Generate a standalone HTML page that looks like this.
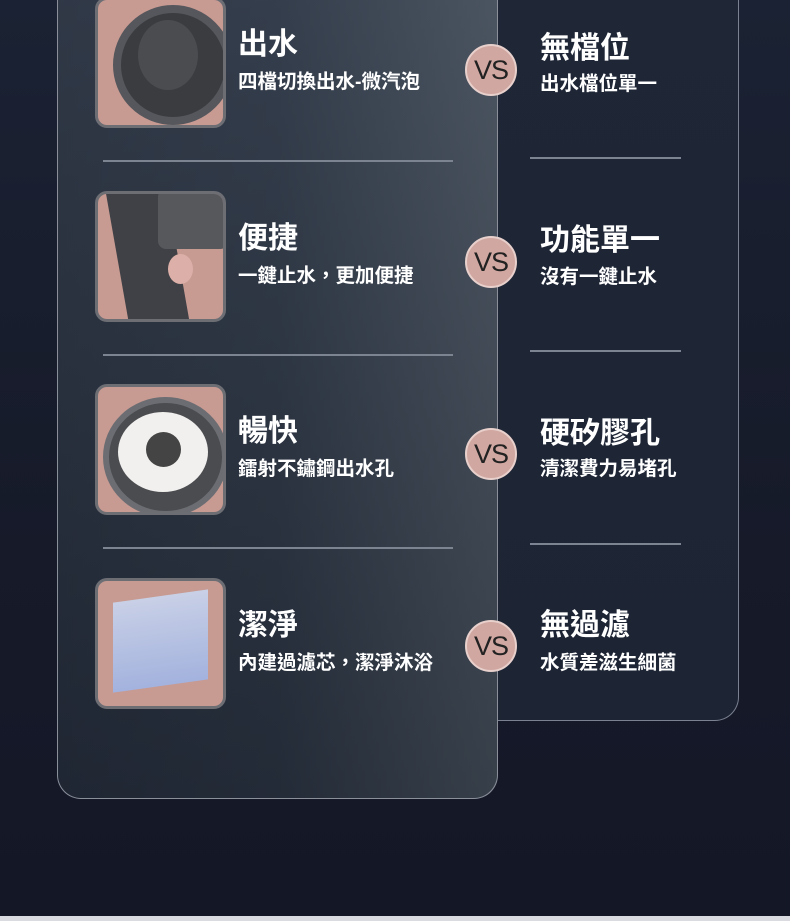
<!DOCTYPE html>
<html><head><meta charset="utf-8"><style>
*{margin:0;padding:0;box-sizing:border-box}
body{width:790px;height:921px;overflow:hidden;background:linear-gradient(180deg,#1b2233 0%,#161a29 60%,#141726 100%);position:relative;font-family:"Liberation Sans","Noto Sans CJK TC",sans-serif;color:#fff}
.rc{position:absolute;left:470px;top:-30px;width:269px;height:751px;border-radius:0 0 24px 24px;background:linear-gradient(180deg,#1f2737,#1d2434);border:1.5px solid #7b8190;border-top:none}
.lc{position:absolute;left:57px;top:-30px;width:441px;height:829px;border-radius:0 0 24px 24px;background:linear-gradient(90deg,#262e3c 0%,#2c3543 50%,#4a545f 100%);border:1.5px solid #8a8f9a;border-top:none}
.lc:after{content:"";position:absolute;inset:0;border-radius:0 0 24px 24px;background:linear-gradient(180deg,rgba(80,90,105,.25),rgba(20,24,34,.35))}
.img{position:absolute;left:95px;width:131px;height:131px;border-radius:12px;background:#c79a92;border:3px solid #6c6e74;overflow:hidden;z-index:2}
.t{position:absolute;font-size:30px;line-height:32px;z-index:2;font-weight:bold}
.s{position:absolute;font-size:19.5px;line-height:22px;z-index:2;font-weight:bold}
.vs{position:absolute;left:465px;width:52px;height:52px;border-radius:50%;background:#d1a7a1;border:2px solid #e8d0cc;color:#222;font-size:27px;line-height:48px;text-align:center;z-index:3;font-weight:normal;letter-spacing:-1px}
.ln{position:absolute;height:1.5px;background:#7d8491;z-index:2}
</style></head><body>
<div class="rc"></div>
<div class="lc"></div>

<div class="img" style="top:-3px"><div style="position:absolute;left:15px;top:5px;width:120px;height:120px;border-radius:50%;background:#3a3c40;border:8px solid #55575c"></div><div style="position:absolute;left:40px;top:20px;width:60px;height:70px;border-radius:50%;background:#4a4c50"></div></div>
<div class="img" style="top:191px"><div style="position:absolute;left:20px;top:-10px;width:60px;height:150px;background:#3f4146;transform:rotate(-10deg)"></div><div style="position:absolute;left:60px;top:-5px;width:70px;height:60px;background:#56585c;border-radius:8px"></div><div style="position:absolute;left:70px;top:60px;width:25px;height:30px;border-radius:50%;background:#dcb0a8"></div></div>
<div class="img" style="top:384px"><div style="position:absolute;left:5px;top:10px;width:125px;height:120px;border-radius:50%;background:#4a4c50;border:6px solid #6b6d72"></div><div style="position:absolute;left:20px;top:25px;width:90px;height:80px;border-radius:50%;background:#f2f0ee"></div><div style="position:absolute;left:48px;top:45px;width:35px;height:35px;border-radius:50%;background:#444"></div></div>
<div class="img" style="top:578px"><div style="position:absolute;left:15px;top:15px;width:95px;height:90px;background:linear-gradient(180deg,#c9d6f0,#9fb5e6);transform:skewY(-8deg);opacity:.9"></div></div>

<div class="t" style="left:238px;top:29px">出水</div>
<div class="s" style="left:238px;top:71px">四檔切換出水-微汽泡</div>
<div class="t" style="left:238px;top:223px">便捷</div>
<div class="s" style="left:238px;top:265px">一鍵止水，更加便捷</div>
<div class="t" style="left:238px;top:416px">暢快</div>
<div class="s" style="left:238px;top:458px">鐳射不鏽鋼出水孔</div>
<div class="t" style="left:238px;top:610px">潔淨</div>
<div class="s" style="left:238px;top:652px">內建過濾芯，潔淨沐浴</div>

<div class="t" style="left:540px;top:33px">無檔位</div>
<div class="s" style="left:540px;top:73px">出水檔位單一</div>
<div class="t" style="left:540px;top:225px">功能單一</div>
<div class="s" style="left:540px;top:266px">沒有一鍵止水</div>
<div class="t" style="left:540px;top:418px">硬矽膠孔</div>
<div class="s" style="left:540px;top:458px">清潔費力易堵孔</div>
<div class="t" style="left:540px;top:610px">無過濾</div>
<div class="s" style="left:540px;top:652px">水質差滋生細菌</div>

<div class="vs" style="top:44px">VS</div>
<div class="vs" style="top:236px">VS</div>
<div class="vs" style="top:428px">VS</div>
<div class="vs" style="top:620px">VS</div>

<div class="ln" style="left:103px;width:350px;top:160px"></div>
<div class="ln" style="left:103px;width:350px;top:354px"></div>
<div class="ln" style="left:103px;width:350px;top:547px"></div>
<div class="ln" style="left:530px;width:151px;top:157px"></div>
<div class="ln" style="left:530px;width:151px;top:350px"></div>
<div class="ln" style="left:530px;width:151px;top:543px"></div>
<div style="position:absolute;left:0;top:916px;width:790px;height:5px;background:#d9dbe0"></div>
</body></html>
